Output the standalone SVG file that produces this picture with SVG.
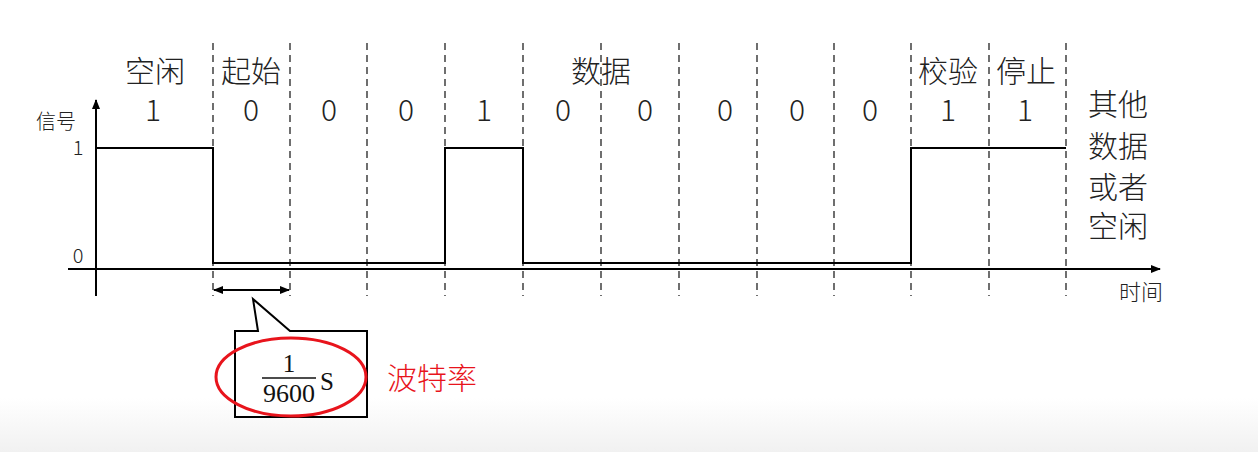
<svg xmlns="http://www.w3.org/2000/svg" width="1258" height="452" viewBox="0 0 1258 452">
<defs>
<linearGradient id="bg" x1="0" y1="0" x2="0" y2="1">
<stop offset="0" stop-color="#ffffff"/>
<stop offset="0.88" stop-color="#ffffff"/>
<stop offset="1" stop-color="#f1f1f1"/>
</linearGradient>
<marker id="arr" markerWidth="10" markerHeight="8" refX="9" refY="4" orient="auto" markerUnits="userSpaceOnUse">
<path d="M0,0 L10,4 L0,8 Z" fill="#000"/>
</marker>
<marker id="arrs" markerWidth="10" markerHeight="8" refX="9" refY="4" orient="auto-start-reverse" markerUnits="userSpaceOnUse">
<path d="M0,0 L10,4 L0,8 Z" fill="#000"/>
</marker>
<style>
.t{font-family:"Noto Sans CJK SC","Noto Sans",sans-serif;fill:#222;text-anchor:middle;font-weight:300}
.big{font-size:30px}
.small{font-size:20px}
.dash{stroke:#222;stroke-width:1.3;stroke-dasharray:7,5;fill:none}
.m{font-family:"Liberation Serif",serif;fill:#111;text-anchor:middle}
</style>
</defs>
<rect width="1258" height="452" fill="url(#bg)"/>
<g id="grid">
<line class="dash" x1="213" y1="43" x2="213" y2="296"/>
<line class="dash" x1="290" y1="43" x2="290" y2="296"/>
<line class="dash" x1="367" y1="43" x2="367" y2="296"/>
<line class="dash" x1="445" y1="43" x2="445" y2="296"/>
<line class="dash" x1="523" y1="43" x2="523" y2="296"/>
<line class="dash" x1="601" y1="43" x2="601" y2="296"/>
<line class="dash" x1="679" y1="43" x2="679" y2="296"/>
<line class="dash" x1="757" y1="43" x2="757" y2="296"/>
<line class="dash" x1="834" y1="43" x2="834" y2="296"/>
<line class="dash" x1="911" y1="43" x2="911" y2="296"/>
<line class="dash" x1="989" y1="43" x2="989" y2="296"/>
<line class="dash" x1="1066" y1="43" x2="1066" y2="296"/>
</g>
<g id="axes" stroke="#000" stroke-width="2" fill="none">
<line x1="96" y1="296" x2="96" y2="100" marker-end="url(#arr)"/>
<line x1="68" y1="269" x2="1160" y2="269" marker-end="url(#arr)"/>
</g>
<g id="signal">
<polyline points="96,148 213,148 213,263 445,263 445,148 523,148 523,263 911,263 911,148 1066,148" fill="none" stroke="#000" stroke-width="2"/>
</g>
<g id="labels">
<text class="t small" x="56" y="129">信号</text>
<text class="t small" x="78" y="155">1</text>
<text class="t small" x="78" y="263">0</text>
<text class="t" font-size="22" x="1141" y="300">时间</text>
<text class="t big" x="155" y="82">空闲</text>
<text class="t big" x="251" y="82">起始</text>
<text class="t big" x="601" y="82">数据</text>
<text class="t big" x="948" y="82">校验</text>
<text class="t big" x="1026" y="82">停止</text>
<text class="t big" x="153" y="121">1</text>
<text class="t big" x="251" y="121">0</text>
<text class="t big" x="329" y="121">0</text>
<text class="t big" x="406" y="121">0</text>
<text class="t big" x="484" y="121">1</text>
<text class="t big" x="563" y="121">0</text>
<text class="t big" x="645" y="121">0</text>
<text class="t big" x="725" y="121">0</text>
<text class="t big" x="797" y="121">0</text>
<text class="t big" x="870" y="121">0</text>
<text class="t big" x="948" y="121">1</text>
<text class="t big" x="1025" y="121">1</text>
<text class="t big" x="1118" y="115">其他</text>
<text class="t big" x="1118" y="157">数据</text>
<text class="t big" x="1118" y="198">或者</text>
<text class="t big" x="1118" y="237">空闲</text>
</g>
<g id="period">
<line x1="214" y1="290" x2="289" y2="290" stroke="#000" stroke-width="2" marker-start="url(#arrs)" marker-end="url(#arrs)"/>
</g>
<g id="callout">
<path d="M235,331 L258,331 L253,299 L290,331 L367,331 L367,417 L235,417 Z" fill="#fff" stroke="#000" stroke-width="2"/>
<text class="m" x="289" y="372" font-size="25">1</text>
<line x1="262" y1="378" x2="316" y2="378" stroke="#111" stroke-width="1.3"/>
<text class="m" x="289" y="402" font-size="25" textLength="52" lengthAdjust="spacingAndGlyphs">9600</text>
<text class="m" x="327" y="390" font-size="25">S</text>
<ellipse cx="291" cy="377" rx="75" ry="39" fill="none" stroke="#e8141c" stroke-width="3"/>
<text x="432" y="389" font-family="'Noto Sans CJK SC',sans-serif" font-weight="300" font-size="30" fill="#e8141c" text-anchor="middle">波特率</text>
</g>
</svg>
